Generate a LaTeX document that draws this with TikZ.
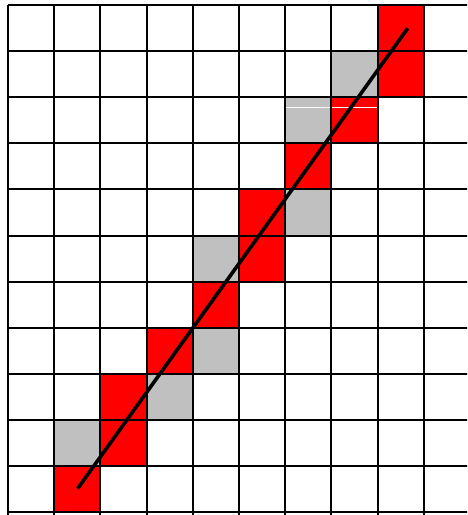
\documentclass[tikz,border=0pt]{standalone}
\begin{document}
\begin{tikzpicture}[x=1pt,y=-1pt,
  redcell/.style={fill={rgb,255:red,255;green,0;blue,0}},
  graycell/.style={fill={rgb,255:red,192;green,192;blue,192}},
  gridline/.style={line width=2pt,black},
  rasterline/.style={line width=3.6pt,black}]
\useasboundingbox (0,0) rectangle (467,515);
\clip (0,0) rectangle (467,515);
\fill[white] (0,0) rectangle (467,515);
% red cells (column, row)
\foreach \c/\r in {8/0,8/1,7/2,6/3,5/4,5/5,4/6,3/7,2/8,2/9,1/10}
  \path[redcell] ({8+46.2*\c},{5+46.1*\r}) rectangle ++(46.2,46.1);
% gray cells
\foreach \c/\r in {7/1,6/2,6/4,4/5,4/7,3/8,1/9}
  \path[graycell] ({8+46.2*\c},{5+46.1*\r}) rectangle ++(46.2,46.1);
% artifact white line
\draw[white,line width=1pt] (285,107.3) -- (377,107.3);
% grid
\foreach \i in {0,...,10}
  \draw[gridline] ({8+46.2*\i},5) -- ({8+46.2*\i},516);
\foreach \j in {0,...,11}
  \draw[gridline] (8,{5+46.1*\j}) -- (468,{5+46.1*\j});
% ideal line
\coordinate (p0) at (77.7,488.5);
\coordinate (p1) at (407.7,28.3);
\draw[rasterline] (p0) -- (p1);
\end{tikzpicture}
\end{document}
